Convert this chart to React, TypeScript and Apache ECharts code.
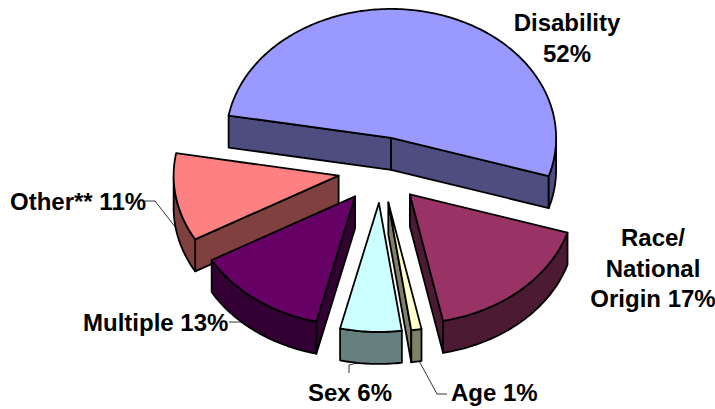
import React, { useEffect, useRef } from "react";
import * as echarts from "echarts";

// Complaint share by basis, clockwise from the upper left of the pie.
const categories = ["Disability", "Race/National Origin", "Age", "Sex", "Multiple", "Other**"];
const values = [52, 17, 1, 6, 13, 11];
const labelLines = [
  ["Disability", "52%"],
  ["Race/", "National", "Origin 17%"],
  ["Age 1%"],
  ["Sex 6%"],
  ["Multiple 13%"],
  ["Other** 11%"],
];
const topColors = ["#9999FF", "#993366", "#FFFFCC", "#CCFFFF", "#660066", "#FF8080"];
const wallColors = ["#4D4D80", "#4D1A33", "#808066", "#668080", "#330033", "#804040"];

// Later entries overlap earlier ones.
const paintOrder = [0, 5, 1, 2, 3, 4];

// Projection of the tilted disc.
const CENTER = { x: 381, y: 170 };
const RADIUS = { x: 165, y: 129 };
const EXPLODE = { x: 43, y: 33 };
const DEPTH = 32;
const START_DEG = 170;

const TOTAL = values.reduce((a, b) => a + b, 0);
const rad = (d: number) => (d * Math.PI) / 180;

// Slice boundaries in degrees, running clockwise on screen.
const spans = (() => {
  let a = START_DEG;
  return values.map((v) => {
    const from = a;
    a -= (v / TOTAL) * 360;
    return { from, to: a };
  });
})();

const renderSlice = (_params: any, api: any) => {
  const i = api.value(0);
  const { from, to } = spans[i];
  const mid = rad((from + to) / 2);
  const ax = CENTER.x + EXPLODE.x * Math.cos(mid);
  const ay = CENTER.y - EXPLODE.y * Math.sin(mid);
  const rim = (deg: number, drop = 0): number[] => [
    ax + RADIUS.x * Math.cos(rad(deg)),
    ay - RADIUS.y * Math.sin(rad(deg)) + drop,
  ];

  const lineStyle = { stroke: "#000", lineWidth: 1.8, lineJoin: "round" };
  const children: any[] = [];
  const wall = (points: number[][]) =>
    children.push({
      type: "polygon",
      shape: { points },
      style: { fill: wallColors[i], ...lineStyle },
    });

  // Radial cut faces that turn towards the viewer.
  if (Math.cos(rad(from)) < 0) {
    wall([[ax, ay], rim(from), rim(from, DEPTH), [ax, ay + DEPTH]]);
  }
  if (Math.cos(rad(to)) > 0) {
    wall([[ax, ay], rim(to), rim(to, DEPTH), [ax, ay + DEPTH]]);
  }

  // Outer rim, sampled only on the front half of the ellipse.
  const arcTop: number[][] = [];
  const steps = Math.max(4, Math.ceil(from - to));
  for (let s = 0; s <= steps; s++) arcTop.push(rim(from - ((from - to) * s) / steps));

  const front: number[] = [];
  for (let s = 0; s <= steps; s++) {
    const deg = from - ((from - to) * s) / steps;
    front.push(Math.sin(rad(deg)) <= 0.001 ? 1 : 0);
  }
  let run: number[][] = [];
  const flush = () => {
    if (run.length > 1) {
      const bottom = run.map((p) => [p[0], p[1] + DEPTH]).reverse();
      wall([...run, ...bottom]);
    }
    run = [];
  };
  arcTop.forEach((p, s) => {
    if (front[s]) run.push(p);
    else flush();
  });
  flush();

  children.push({
    type: "polygon",
    shape: { points: [[ax, ay], ...arcTop] },
    style: { fill: topColors[i], ...lineStyle },
  });
  return { type: "group", children };
};

const LABEL_FONT = 'bold 24px "Liberation Sans", Arial, sans-serif';

const label = (i: number, x: number, y: number, align: string) => ({
  type: "text",
  x,
  y,
  style: {
    text: labelLines[i].join("\n"),
    font: LABEL_FONT,
    fill: "#000",
    align,
    verticalAlign: "middle",
    lineHeight: 30.5,
  },
});

const leader = (points: number[][]) => ({
  type: "polyline",
  shape: { points },
  style: { stroke: "#000", lineWidth: 0.8, fill: "none" },
});

export default function App() {
  const ref = useRef<HTMLDivElement>(null);
  useEffect(() => {
    document.body.style.margin = "0";
    const chart = echarts.init(ref.current!, undefined, { renderer: "svg" });
    chart.setOption({
      animation: false,
      backgroundColor: "#fff",
      series: [
        {
          type: "custom",
          coordinateSystem: "none",
          name: "Share by basis",
          renderItem: renderSlice,
          encode: { itemName: 2 },
          data: paintOrder.map((i) => [i, values[i], categories[i]]),
          silent: true,
        },
      ],
      graphic: [
        label(0, 567, 38, "center"),
        label(1, 653, 268, "center"),
        label(2, 451, 392, "left"),
        label(3, 308, 392, "left"),
        label(4, 83, 322, "left"),
        label(5, 10, 201, "left"),
        leader([[145, 201], [155, 201], [176, 228]]),
        leader([[229, 322], [240, 322], [248, 324]]),
        leader([[349, 373], [349, 365], [365, 361]]),
        leader([[447, 394], [437, 394], [418, 359]]),
      ],
    });
    return () => chart.dispose();
  }, []);
  return <div ref={ref} style={{ width: 715, height: 409 }} />;
}
